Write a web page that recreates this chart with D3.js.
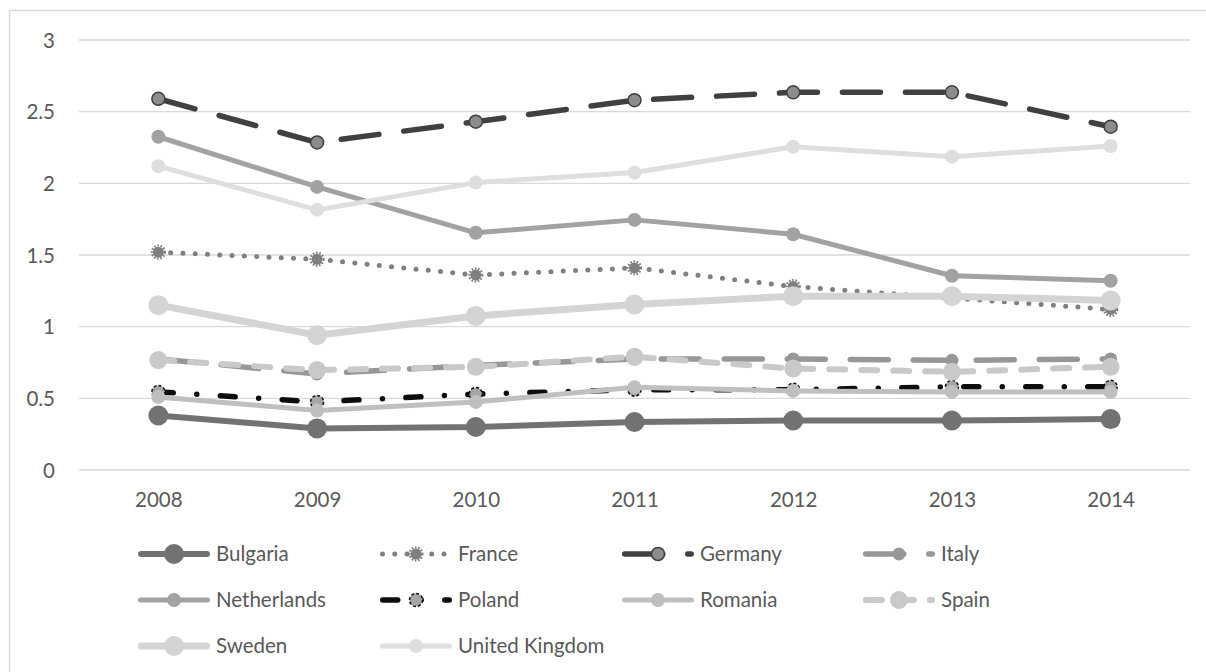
<!DOCTYPE html>
<html>
<head>
<meta charset="utf-8">
<script src="https://cdn.jsdelivr.net/npm/d3@7"></script>
<style>
  html, body { margin: 0; padding: 0; background: #ffffff; }
  svg { display: block; }
  text { font-family: Lato, "Open Sans", sans-serif; fill: #595959; }
</style>
</head>
<body>
<svg id="chart" width="1206" height="672"></svg>
<script>
// ---- data ----
const years = ["2008", "2009", "2010", "2011", "2012", "2013", "2014"];
const yTicks = [0, 0.5, 1, 1.5, 2, 2.5, 3];
const seriesNames = ["Bulgaria", "France", "Germany", "Italy", "Netherlands", "Poland", "Romania", "Spain", "Sweden", "United Kingdom"];
const bulgaria    = [0.38, 0.29, 0.30, 0.335, 0.345, 0.345, 0.355];
const france      = [1.52, 1.47, 1.36, 1.41, 1.28, 1.20, 1.12];
const germany     = [2.59, 2.285, 2.43, 2.58, 2.635, 2.635, 2.395];
const italy       = [0.775, 0.67, 0.73, 0.775, 0.775, 0.765, 0.775];
const netherlands = [2.325, 1.975, 1.655, 1.745, 1.645, 1.355, 1.32];
const poland      = [0.545, 0.475, 0.53, 0.56, 0.56, 0.58, 0.58];
const romania     = [0.51, 0.415, 0.475, 0.578, 0.552, 0.545, 0.545];
const spain       = [0.767, 0.697, 0.72, 0.79, 0.708, 0.685, 0.72];
const sweden      = [1.15, 0.94, 1.075, 1.155, 1.213, 1.213, 1.183];
const uk          = [2.12, 1.815, 2.005, 2.075, 2.255, 2.185, 2.26];
const seriesValues = [bulgaria, france, germany, italy, netherlands, poland, romania, spain, sweden, uk];

// ---- styles ----
const styles = [
  { color: "#727272", width: 6,   dash: null,                r: 10,  mfill: "#727272" },
  { color: "#7f7f7f", width: 5,   dash: "0,12.3",           r: 5.5, mfill: "#7f7f7f", gear: true },
  { color: "#404040", width: 5.5, dash: "38,25",            r: 6.5, mfill: "#8c8c8c", mstroke: "#404040" },
  { color: "#979797", width: 5.5, dash: "38,25",            r: 6.5, mfill: "#979797" },
  { color: "#a2a2a2", width: 5,   dash: null,               r: 7,   mfill: "#a2a2a2" },
  { color: "#0d0d0d", width: 5.5, dash: "15,23.5,0,23.5",   r: 6.5, mfill: "#a6a6a6", mstroke: "#0d0d0d", mdash: "3,2" },
  { color: "#bfbfbf", width: 5,   dash: null,               r: 7,   mfill: "#bfbfbf" },
  { color: "#c9c9c9", width: 6,   dash: "16,16",            r: 9,   mfill: "#c9c9c9" },
  { color: "#d4d4d4", width: 7,   dash: null,               r: 10,  mfill: "#d4d4d4" },
  { color: "#dedede", width: 5,   dash: null,               r: 7,   mfill: "#dedede" }
];

const svg = d3.select("#chart");

// outer chart border (left + top visible)
svg.append("rect")
  .attr("x", 9.5).attr("y", 10.5)
  .attr("width", 1400).attr("height", 800)
  .attr("fill", "none").attr("stroke", "#d9d9d9").attr("stroke-width", 1.5);

const x = d3.scalePoint().domain(years).range([79, 1190]).padding(0.5);
const y = d3.scaleLinear().domain([0, 3]).range([470, 40]);

// gridlines
svg.append("g").selectAll("line").data(yTicks).join("line")
  .attr("x1", 79).attr("x2", 1190)
  .attr("y1", d => y(d)).attr("y2", d => y(d))
  .attr("stroke", "#d9d9d9").attr("stroke-width", 1.3);

// y axis labels
const yAxis = d3.axisLeft(y).tickValues(yTicks).tickSize(0).tickPadding(0).tickFormat(d3.format("~g"));
const gy = svg.append("g").attr("transform", "translate(55,0)").call(yAxis);
gy.select(".domain").remove();
gy.selectAll("text").attr("font-size", "20.5px").attr("font-family", "Lato").attr("fill", "#595959").attr("dy", "0.35em");

// x axis labels
const xAxis = d3.axisBottom(x).tickSize(0).tickPadding(0);
const gx = svg.append("g").attr("transform", "translate(0,500)").call(xAxis);
gx.select(".domain").remove();
gx.selectAll("text").attr("font-size", "20.5px").attr("font-family", "Lato").attr("fill", "#595959").attr("dy", "0.35em");

function drawMarker(g, cx, cy, st) {
  if (st.gear) {
    g.append("circle").attr("cx", cx).attr("cy", cy).attr("r", st.r).attr("fill", st.mfill);
    g.append("circle").attr("cx", cx).attr("cy", cy).attr("r", st.r + 1)
      .attr("fill", "none").attr("stroke", st.mfill).attr("stroke-width", 2.2).attr("stroke-dasharray", "1.6,1.6");
  } else {
    const c = g.append("circle").attr("cx", cx).attr("cy", cy).attr("r", st.r).attr("fill", st.mfill);
    if (st.mstroke) {
      c.attr("stroke", st.mstroke).attr("stroke-width", 1.5);
      if (st.mdash) c.attr("stroke-dasharray", st.mdash);
    }
  }
}

const line = d3.line().x((d, i) => x(years[i])).y(d => y(d));

seriesValues.forEach((vals, si) => {
  const st = styles[si];
  const g = svg.append("g");
  const p = g.append("path").attr("d", line(vals))
    .attr("fill", "none").attr("stroke", st.color).attr("stroke-width", st.width)
    .attr("stroke-linejoin", "round").attr("stroke-linecap", "round");
  if (st.dash) p.attr("stroke-dasharray", st.dash);
  vals.forEach((v, i) => drawMarker(g, x(years[i]), y(v), st));
});

// legend
const colStart = [138, 380, 622, 863];
const rowY = [554, 600, 646];
const sampleLen = 72;
const textOffset = 78;
seriesNames.forEach((name, si) => {
  const st = styles[si];
  const col = si % 4, row = Math.floor(si / 4);
  const x0 = colStart[col], yy = rowY[row];
  const g = svg.append("g");
  const l = g.append("line").attr("x1", x0 + st.width / 2).attr("x2", x0 + sampleLen - st.width / 2)
    .attr("y1", yy).attr("y2", yy)
    .attr("stroke", st.color).attr("stroke-width", st.width).attr("stroke-linecap", "round");
  if (st.dash) l.attr("stroke-dasharray", st.dash);
  drawMarker(g, x0 + 36, yy, st);
  g.append("text").attr("x", x0 + textOffset).attr("y", yy).attr("dy", "0.35em")
    .attr("font-size", "20.5px").attr("fill", "#595959").text(name);
});
</script>
</body>
</html>
